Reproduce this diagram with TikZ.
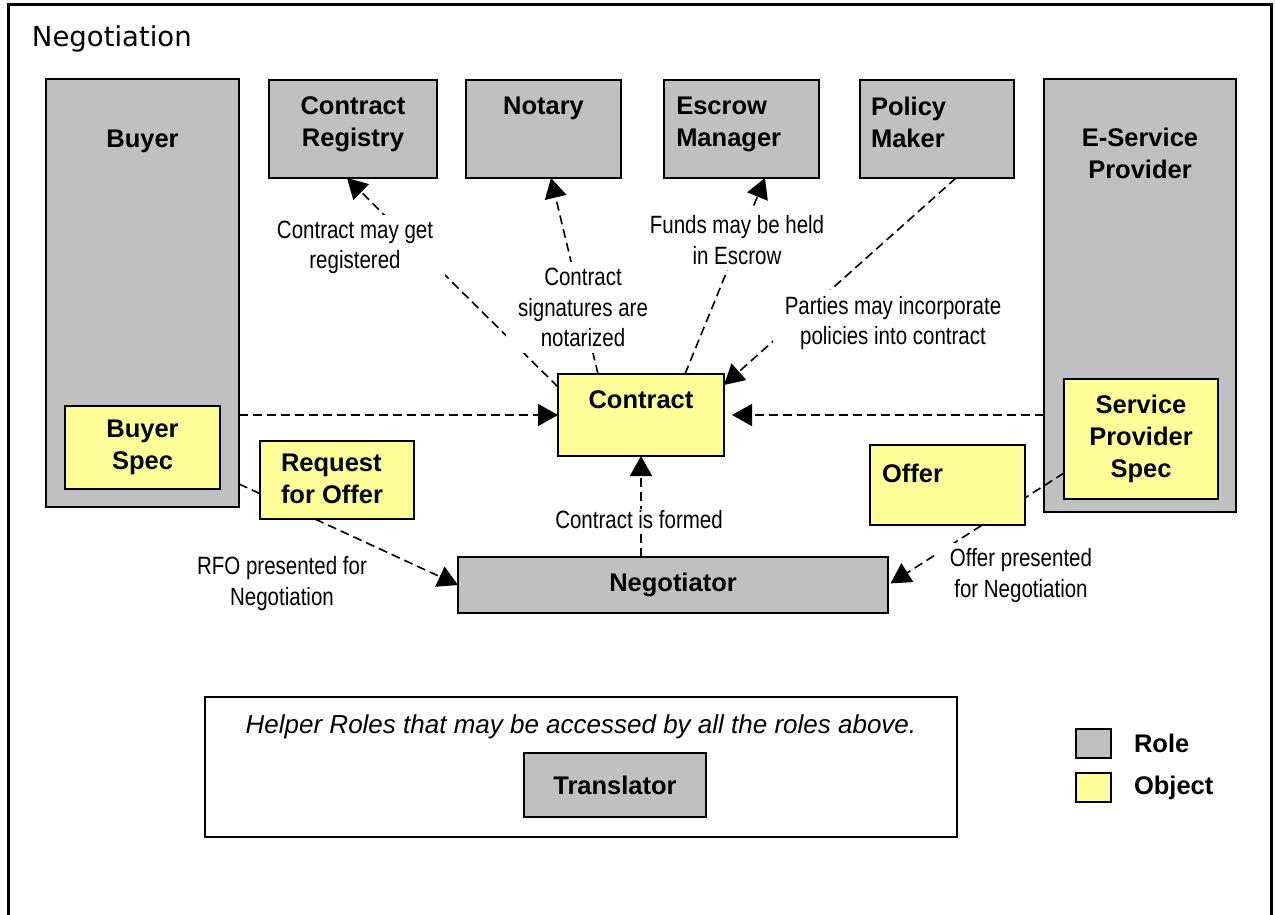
\documentclass[tikz,border=0pt]{standalone}
\usepackage{fontspec}
\setmainfont{Liberation Sans}
\newfontfamily\narrowfont{Liberation Sans}[FakeStretch=0.82]
\newfontfamily\titlefont{DejaVu Sans}
\usepackage{tikz}
\usepackage{xcolor}
\usetikzlibrary{positioning,arrows.meta}

\definecolor{rolegray}{HTML}{C0C0C0}
\definecolor{objyellow}{HTML}{FFFF99}

\begin{document}
\begin{tikzpicture}[x=0.5pt, y=-0.5pt,
    every node/.style = {inner sep=0pt, outer sep=0pt},
    role/.style = {draw, line width=1pt, fill=rolegray},
    object/.style = {draw, line width=1pt, fill=objyellow},
    boxtext/.style = {font=\fontsize{12.75}{16}\selectfont\bfseries, align=center},
    note/.style = {font=\narrowfont\fontsize{12.5}{15.25}\selectfont, align=center,
      fill=white, inner xsep=6pt, inner ysep=3pt},
    flow/.style = {dash pattern=on 4.5pt off 2.5pt, line width=0.8pt,
      -{Triangle[length=10pt,width=11pt]}}]
    \useasboundingbox (0,0) rectangle (1275,915);
    \draw[line width=1.5pt] (8,915) -- (8,5) -- (1271,5) -- (1271,915);
    \node[font=\titlefont\fontsize{13.75}{16}\selectfont, anchor=west] (title) at (32,39) {Negotiation};

    \node[role, minimum width=96.5pt, minimum height=214pt] (buyer) at (142.5,293) {};
    \node[object, minimum width=77.5pt, minimum height=41.5pt, boxtext] (bspec) at (142.5,447.5) {Buyer\\Spec};
    \node[role, minimum width=84pt, minimum height=49pt] (reg) at (353,129) {};
    \node[role, minimum width=77.5pt, minimum height=49pt] (notary) at (543.5,129) {};
    \node[role, minimum width=77.25pt, minimum height=49pt] (escrow) at (741.5,129) {};
    \node[role, minimum width=77pt, minimum height=49pt] (policy) at (937,129) {};
    \node[role, minimum width=96pt, minimum height=216.5pt] (esp) at (1140,295.5) {};
    \node[object, minimum width=77pt, minimum height=60pt, boxtext] (spspec) at (1141,439) {Service\\Provider\\Spec};
    \node[object, minimum width=83pt, minimum height=41pt] (contract) at (641,415) {};
    \node[role, minimum width=215pt, minimum height=28pt, boxtext] (neg) at (673,585) {Negotiator};
    \node[draw, line width=1pt, minimum width=376pt, minimum height=70pt] (helper) at (581,767) {};
    \node[role, minimum width=91pt, minimum height=32pt, boxtext] (transl) at (615,785) {Translator};
    \node[role, minimum width=17.5pt, minimum height=14.5pt] (keyrole) at (1093.5,743.5) {};
    \node[object, minimum width=17.5pt, minimum height=14.5pt] (keyobj) at (1093.5,787.5) {};

    \node[boxtext, below=25.5pt of buyer.north] (buyertxt) {Buyer};
    \node[boxtext, below=8.5pt of reg.north] (regtxt) {Contract\\Registry};
    \node[boxtext, below=8.5pt of notary.north] (notarytxt) {Notary};
    \node[boxtext, align=left, below right=8.5pt and 6pt of escrow.north west] (escrowtxt) {Escrow\\Manager};
    \node[boxtext, align=left, below right=8.5pt and 5.5pt of policy.north west] (policytxt) {Policy\\Maker};
    \node[boxtext, below=24.5pt of esp.north] (esptxt) {E-Service\\Provider};
    \node[boxtext, below=8.5pt of contract.north] (contracttxt) {Contract};

    \draw[flow] (contract.west -| buyer.east) -- (contract.west);
    \draw[flow, shorten >=4pt] (esp.west |- contract.east) -- (contract.east);
    \draw[flow] ([yshift=-6.5pt]contract.north west) -- ([xshift=-3pt]reg.south);
    \draw[flow] ([xshift=20pt]contract.north west) -- ([xshift=3.75pt]notary.south);
    \draw[flow] ([xshift=22pt]contract.north) -- ([xshift=11.75pt]escrow.south);
    \draw[flow] ([xshift=9.5pt]policy.south) -- ([yshift=-5.5pt]contract.north east);
    \draw[flow] (contract.south |- neg.north) -- (contract.south);
    \draw[flow] ([yshift=11.5pt]buyer.south east) -- (neg.west);
    \draw[flow, shorten >=1.5pt] ([yshift=-17pt]spspec.west) -- (neg.east);

    \node[object, minimum width=77pt, minimum height=39pt] (rfo) at (337,480) {};
    \node[boxtext, align=left, below right=6.5pt and 10.5pt of rfo.north west] (rfotxt) {Request\\for Offer};
    \node[object, minimum width=77.5pt, minimum height=40pt] (offer) at (947.5,485) {};
    \node[boxtext, below right=9.5pt and 6pt of offer.north west] (offertxt) {Offer};

    \node[note] (reglbl) at (355,247.5) {Contract may get\\registered};
    \node[note] (notarylbl) at (583,307.5) {Contract\\signatures are\\notarized};
    \node[note] (escrowlbl) at (737,240) {Funds may be held\\in Escrow};
    \node[note] (policylbl) at (893,323) {Parties may incorporate\\policies into contract};
    \node[note, inner xsep=1pt, inner ysep=1pt] (formlbl) at (639,520) {Contract is formed};
    \node[note] (rfolbl) at (282,583.5) {RFO presented for\\Negotiation};
    \node[note] (offerlbl) at (1021,575.5) {Offer presented\\for Negotiation};

    \node[font=\fontsize{13}{16}\selectfont\itshape, below=8.75pt of helper.north] (helpertxt) {Helper Roles that may be accessed by all the roles above.};
    \node[boxtext, right=11.5pt of keyrole] (roletxt) {Role};
    \node[boxtext, right=11.5pt of keyobj] (objtxt) {Object};
\end{tikzpicture}
\end{document}
